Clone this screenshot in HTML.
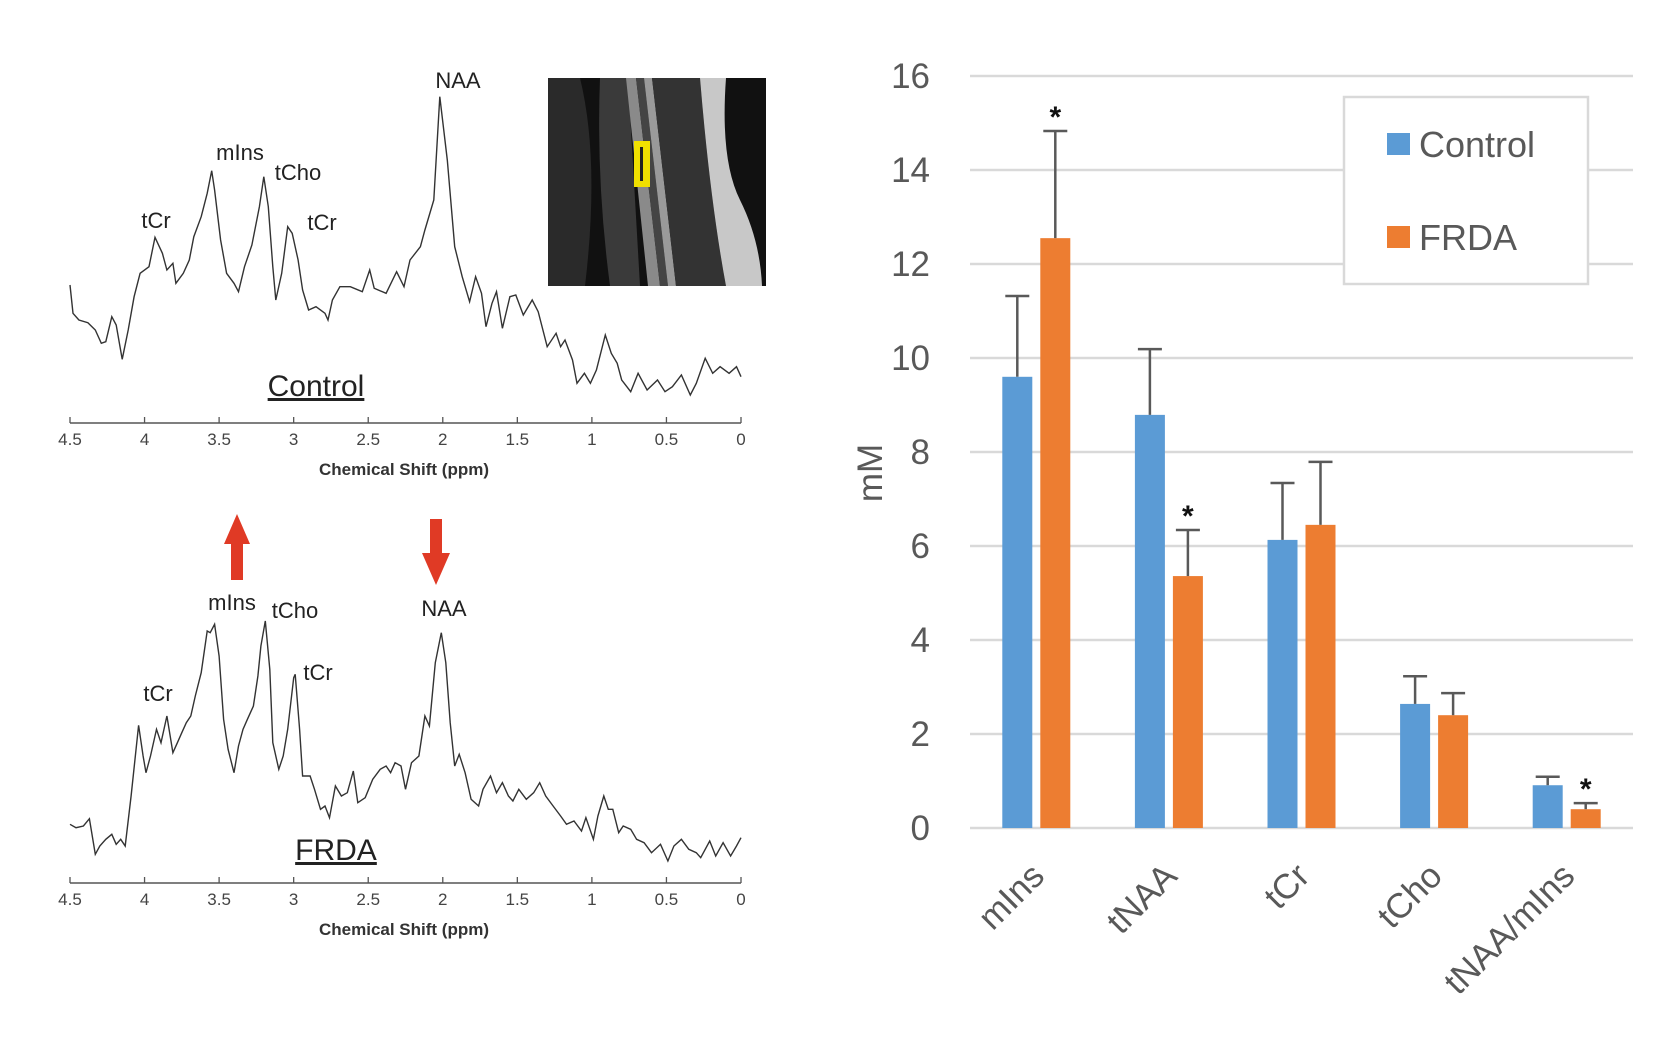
<!DOCTYPE html>
<html><head><meta charset="utf-8"><style>
html,body{margin:0;padding:0;background:#fff;}
svg{display:block;font-family:"Liberation Sans",sans-serif;}
</style></head><body>
<svg id="fig" width="1661" height="1042" viewBox="0 0 1661 1042" xmlns="http://www.w3.org/2000/svg">
<g id="left"></g>
<g id="mri">
  <rect x="548" y="78" width="218" height="208" fill="#111"/>
  <path d="M548 78 L580 78 Q600 160 585 286 L548 286 Z" fill="#2a2a2a"/>
  <path d="M600 78 L628 78 L640 286 L610 286 Q596 180 600 78Z" fill="#3a3a3a"/>
  <path d="M626 78 L636 78 L660 286 L648 286 Z" fill="#8a8a8a"/>
  <path d="M636 78 L644 78 L668 286 L660 286 Z" fill="#444"/>
  <path d="M644 78 L652 78 L676 286 L668 286 Z" fill="#9a9a9a"/>
  <path d="M652 78 L700 78 Q710 200 726 286 L676 286 Z" fill="#333"/>
  <path d="M700 78 L726 78 Q720 160 740 200 Q760 240 762 286 L726 286 Q710 200 700 78Z" fill="#c8c8c8"/>
  <rect x="634" y="141" width="16" height="46" fill="#f0e000"/>
  <rect x="640" y="147" width="3" height="34" fill="#222"/>
</g>
<g id="chart"></g>
</svg>
<script>
// ---------- Spectra data ----------
const ctrlPpm = [4.50,4.48,4.44,4.38,4.33,4.29,4.26,4.22,4.19,4.15,4.11,4.07,4.03,3.97,3.93,3.88,3.85,3.81,3.79,3.74,3.70,3.67,3.62,3.58,3.55,3.53,3.49,3.45,3.40,3.37,3.33,3.28,3.23,3.20,3.17,3.14,3.12,3.08,3.04,3.01,2.97,2.94,2.90,2.85,2.79,2.77,2.74,2.69,2.62,2.54,2.49,2.46,2.38,2.31,2.26,2.22,2.15,2.12,2.06,2.02,1.97,1.92,1.87,1.82,1.78,1.74,1.71,1.67,1.64,1.60,1.55,1.51,1.46,1.40,1.36,1.30,1.24,1.21,1.18,1.13,1.10,1.05,1.01,0.97,0.91,0.87,0.83,0.80,0.74,0.69,0.63,0.56,0.51,0.46,0.40,0.34,0.30,0.24,0.19,0.14,0.08,0.03,0.00];
const ctrlInt = [414,329,309,301,279,239,244,319,294,191,279,379,449,469,557,509,459,479,419,449,489,559,619,689,757,699,549,449,419,394,469,534,649,739,649,469,369,449,589,569,489,399,339,349,329,309,369,409,409,394,459,404,389,454,409,489,529,579,669,979,789,529,439,364,439,389,289,359,394,284,379,384,324,369,334,229,269,229,249,189,119,149,119,159,264,209,179,129,94,149,99,129,94,109,144,84,119,194,149,169,149,169,139];
const frdaPpm = [4.50,4.46,4.41,4.37,4.33,4.30,4.26,4.22,4.19,4.16,4.13,4.09,4.04,4.01,3.99,3.96,3.92,3.89,3.85,3.81,3.78,3.75,3.72,3.69,3.66,3.62,3.58,3.56,3.53,3.50,3.47,3.44,3.40,3.37,3.34,3.31,3.27,3.24,3.22,3.19,3.16,3.14,3.10,3.07,3.04,3.00,2.99,2.96,2.94,2.89,2.86,2.82,2.79,2.76,2.72,2.68,2.64,2.60,2.57,2.52,2.47,2.42,2.38,2.35,2.32,2.28,2.25,2.21,2.16,2.12,2.09,2.05,2.01,1.98,1.95,1.92,1.89,1.85,1.81,1.76,1.73,1.68,1.64,1.60,1.56,1.53,1.49,1.44,1.39,1.35,1.31,1.26,1.21,1.17,1.12,1.07,1.04,0.99,0.96,0.92,0.89,0.86,0.82,0.79,0.74,0.70,0.65,0.60,0.54,0.49,0.45,0.40,0.35,0.30,0.27,0.21,0.17,0.12,0.07,0.03,0.00];
const frdaInt = [176,166,171,193,86,111,131,146,116,131,111,261,473,381,331,381,461,421,501,391,421,451,481,501,561,631,756,751,776,681,491,401,331,411,461,491,531,621,711,786,641,421,341,381,461,616,626,461,321,321,281,221,231,196,291,261,271,336,241,256,311,341,351,331,361,351,281,361,381,501,471,661,751,661,481,351,386,331,251,231,281,321,271,301,261,246,281,251,271,301,261,231,201,176,186,156,196,131,201,261,221,221,151,171,161,131,121,91,116,66,111,131,101,91,76,126,81,121,81,111,136];
const ppmTicks = [4.5,4,3.5,3,2.5,2,1.5,1,0.5,0];
const ppmTickLabels = ["4.5","4","3.5","3","2.5","2","1.5","1","0.5","0"];

// ---------- Bar chart data ----------
const categories = ["mIns","tNAA","tCr","tCho","tNAA/mIns"];
const controlVals = [9.6,8.79,6.13,2.64,0.91];
const controlErr  = [1.72,1.40,1.21,0.59,0.18];
const frdaVals    = [12.55,5.36,6.45,2.40,0.40];
const frdaErr     = [2.28,0.98,1.34,0.47,0.13];
const significant = [true,true,false,false,true];
const yTicks = [0,2,4,6,8,10,12,14,16];

const NS='http://www.w3.org/2000/svg';
function mk(tag, attrs, parent){const e=document.createElementNS(NS,tag);for(const k in attrs)e.setAttribute(k,attrs[k]);parent.appendChild(e);return e;}

// ---------- Spectra ----------
const left=document.getElementById('left');
const px=p=>70+(4.5-p)/4.5*671;
function drawSpectrum(ppm, intens, axisY, name, title, titleX, titleY, labels){
  let d='';
  for(let i=0;i<ppm.length;i++){d+=(i?'L':'M')+px(ppm[i]).toFixed(1)+' '+(axisY-intens[i]/3).toFixed(1);}
  const path=mk('path',{d:d,fill:'none',stroke:'#333',"stroke-width":1.4},left);
  
  
  const ax=mk('line',{x1:px(4.5),x2:px(0),y1:axisY,y2:axisY,stroke:'#555',"stroke-width":1.5},left);
  
  
  ppmTicks.forEach((t,i)=>{
    const tk=mk('line',{x1:px(t),x2:px(t),y1:axisY,y2:axisY-6,stroke:'#555',"stroke-width":1.3},left);
    
    
    const tl=mk('text',{x:px(t),y:axisY+22,"text-anchor":"middle","font-size":17,fill:'#444'},left);
    tl.textContent=ppmTickLabels[i];
    
    
  });
  const at=mk('text',{x:404,y:axisY+52,"text-anchor":"middle","font-size":17,"font-weight":"bold",fill:'#333'},left);
  at.textContent='Chemical Shift (ppm)';
  
  
  const tt=mk('text',{x:titleX,y:titleY,"text-anchor":"middle","font-size":30,"text-decoration":"underline",fill:'#222'},left);
  tt.textContent=title;
  
  
  labels.forEach(l=>{
    const t=mk('text',{x:l[1],y:l[2],"text-anchor":"middle","font-size":22,fill:'#222'},left);
    t.textContent=l[0];
    
    
  });
}
drawSpectrum(ctrlPpm,ctrlInt,423,'control','Control',316,396,[["NAA",458,88],["mIns",240,160],["tCho",298,180],["tCr",156,228],["tCr",322,230]]);
drawSpectrum(frdaPpm,frdaInt,883,'frda','FRDA',336,860,[["mIns",232,610],["tCho",295,618],["NAA",444,616],["tCr",158,701],["tCr",318,680]]);
// arrows
const up=mk('path',{d:'M237 514 L250 544 L243 544 L243 580 L231 580 L231 544 L224 544 Z',fill:'#e03a25'},left);


const dn=mk('path',{d:'M430 519 L442 519 L442 553 L450 553 L436 585 L422 553 L430 553 Z',fill:'#e03a25'},left);



// ---------- Bar chart ----------
const chart=document.getElementById('chart');
const X0=970,X1=1633,Y0=828,PPU=47;
const ys=v=>Y0-v*PPU;
const bandW=(X1-X0)/categories.length;
const cx=i=>X0+bandW*(i+0.5);
const BW=30;
yTicks.forEach(t=>{
  const g=mk('line',{x1:X0,x2:X1,y1:ys(t),y2:ys(t),stroke:'#d9d9d9',"stroke-width":2.5},chart);
  
  
  const l=mk('text',{x:930,y:ys(t)+12,"text-anchor":"end","font-size":35,fill:'#595959'},chart);
  l.textContent=String(t);
  
  
});
const yt=mk('text',{x:0,y:0,"text-anchor":"middle","font-size":35,fill:'#595959',transform:'translate(882 473) rotate(-90)'},chart);
yt.textContent='mM';


function errBar(x,v,e){
  const ln=mk('line',{x1:x,x2:x,y1:ys(v),y2:ys(v+e),stroke:'#595959',"stroke-width":2.5},chart);
  
  
  const cap=mk('line',{x1:x-12,x2:x+12,y1:ys(v+e),y2:ys(v+e),stroke:'#595959',"stroke-width":2.5},chart);
  
  
}
categories.forEach((c,i)=>{
  const bx=cx(i)-34, ox=cx(i)+4;
  const b=mk('rect',{x:bx,y:ys(controlVals[i]),width:BW,height:controlVals[i]*PPU,fill:'#5b9bd5'},chart);
  
  
  const o=mk('rect',{x:ox,y:ys(frdaVals[i]),width:BW,height:frdaVals[i]*PPU,fill:'#ed7d31'},chart);
  
  
  errBar(bx+BW/2,controlVals[i],controlErr[i]);
  errBar(ox+BW/2,frdaVals[i],frdaErr[i]);
  if(significant[i]){
    const s=mk('text',{x:ox+BW/2,y:ys(frdaVals[i]+frdaErr[i])-4,"text-anchor":"middle","font-size":30,"font-weight":"bold",fill:'#111'},chart);
    s.textContent='*';
    
    
  }
  const lx=cx(i)+10, ly=878;
  const l=mk('text',{x:lx,y:ly,"text-anchor":"end","font-size":35,fill:'#595959',transform:`rotate(-45 ${lx} ${ly})`},chart);
  l.textContent=c;
  
  
});
// legend
const lg=mk('g',{},chart);


mk('rect',{x:1344,y:97,width:244,height:187,fill:'#fff',stroke:'#d9d9d9',"stroke-width":2.5},lg);
[['Control','#5b9bd5',133],['FRDA','#ed7d31',226]].forEach(e=>{
  const it=mk('g',{},lg);
  
  
  mk('rect',{x:1387,y:e[2],width:23,height:22,fill:e[1]},it);
  const t=mk('text',{x:1419,y:e[2]+24,"font-size":36,fill:'#595959'},it);
  t.textContent=e[0];
});
</script>
</body></html>
